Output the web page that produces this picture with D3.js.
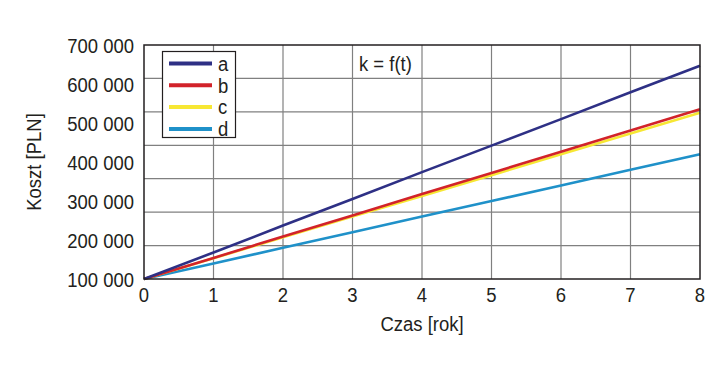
<!DOCTYPE html>
<html lang="pl">
<head>
<meta charset="utf-8">
<title>k = f(t)</title>
<script src="https://d3js.org/d3.v7.min.js"></script>
<style>
  body { margin: 0; background: #fff; }
  text { font-family: "Liberation Sans", Arial, sans-serif; fill: #231f20; }
</style>
</head>
<body>
<script>
// lata
var years = [0, 1, 2, 3, 4, 5, 6, 7, 8];
// koszt [PLN] dla wariantów a-d
var seriesA = [100000, 168000, 237000, 305000, 374000, 442000, 510000, 579000, 647000];
var seriesB = [100000, 154000, 209000, 263000, 318000, 372000, 426000, 481000, 535000];
var seriesC = [100000, 153000, 207000, 260000, 313000, 366000, 420000, 473000, 526000];
var seriesD = [100000, 140000, 180000, 220000, 260000, 300000, 340000, 380000, 420000];
var names = ["a", "b", "c", "d"];
var colors = ["#2e3085", "#d2232a", "#f7e733", "#1f91c9"];
var yTicks = [100000, 200000, 300000, 400000, 500000, 600000, 700000];
// poziome linie siatki dzielą wykres na 7 równych pasów (niezależnie od opisów osi)
var hGrid = [1, 2, 3, 4, 5, 6];

var w = 728, h = 368;
var mLeft = 144, mRight = 700, mTop = 45, mBottom = 279;
var sx = 0.88; // zwężenie czcionki

var svg = d3.select("body").append("svg")
  .attr("width", w).attr("height", h);

var x = d3.scaleLinear().domain([0, 8]).range([mLeft, mRight]);
var y = d3.scaleLinear().domain([100000, 700000]).range([mBottom, mTop]);
var g = d3.scaleLinear().domain([0, 7]).range([mBottom, mTop]);

// siatka
svg.append("g")
  .selectAll("line").data(years.slice(1, -1)).enter().append("line")
  .attr("x1", d => x(d)).attr("x2", d => x(d))
  .attr("y1", mTop).attr("y2", mBottom)
  .attr("stroke", "#808080").attr("stroke-width", 1.2);
svg.append("g")
  .selectAll("line").data(hGrid).enter().append("line")
  .attr("x1", mLeft).attr("x2", mRight)
  .attr("y1", d => g(d)).attr("y2", d => g(d))
  .attr("stroke", "#808080").attr("stroke-width", 1.2);

var fmt = d => d3.format(",")(d).replace(/,/g, " ");

var yAxis = svg.append("g").attr("transform", "translate(" + mLeft + ",0)")
  .call(d3.axisLeft(y).tickValues(yTicks).tickSize(0).tickFormat(fmt));
yAxis.select(".domain").remove();
yAxis.selectAll("text").attr("font-size", 21).attr("font-family", null)
  .attr("x", -10 / sx).attr("dy", "0.35em")
  .attr("transform", "scale(" + sx + ",1)");

var xAxis = svg.append("g").attr("transform", "translate(0," + mBottom + ")")
  .call(d3.axisBottom(x).tickValues(years).tickSize(0).tickPadding(8).tickFormat(d3.format("d")));
xAxis.select(".domain").remove();
xAxis.selectAll("text").attr("font-size", 21).attr("font-family", null)
  .attr("transform", "scale(" + sx + ",1)");
xAxis.selectAll(".tick").attr("transform", d => "translate(" + x(d) + ",0)");

// linie
var data = [seriesA, seriesB, seriesC, seriesD];
var line = d3.line().x((d, i) => x(years[i])).y(d => y(d));
[3, 2, 1, 0].forEach(function (k) {
  svg.append("path").datum(data[k])
    .attr("d", line).attr("fill", "none")
    .attr("stroke", colors[k]).attr("stroke-width", 2.6);
});

// ramka
svg.append("rect")
  .attr("x", mLeft).attr("y", mTop)
  .attr("width", mRight - mLeft).attr("height", mBottom - mTop)
  .attr("fill", "none").attr("stroke", "#231f20").attr("stroke-width", 1.5);

function label(px, py, txt, anchor, rot) {
  return svg.append("text")
    .attr("transform", "translate(" + px + "," + py + ")" + (rot ? " rotate(" + rot + ")" : "") + " scale(" + sx + ",1)")
    .attr("dy", "0.35em").attr("font-size", 21)
    .attr("text-anchor", anchor || "start").text(txt);
}

// legenda
svg.append("rect").attr("x", 162.5).attr("y", 51.5).attr("width", 73).attr("height", 86)
  .attr("fill", "#fff").attr("stroke", "#231f20").attr("stroke-width", 1.2);
names.forEach(function (n, i) {
  var ly = 63.5 + i * 21.8;
  svg.append("line").attr("x1", 169).attr("x2", 212).attr("y1", ly).attr("y2", ly)
    .attr("stroke", colors[i]).attr("stroke-width", 4);
  label(218, ly, n);
});

label(359, 64, "k = f(t)");
label(422, 324, "Czas [rok]", "middle");
label(34, 162, "Koszt [PLN]", "middle", -90);
</script>
</body>
</html>
